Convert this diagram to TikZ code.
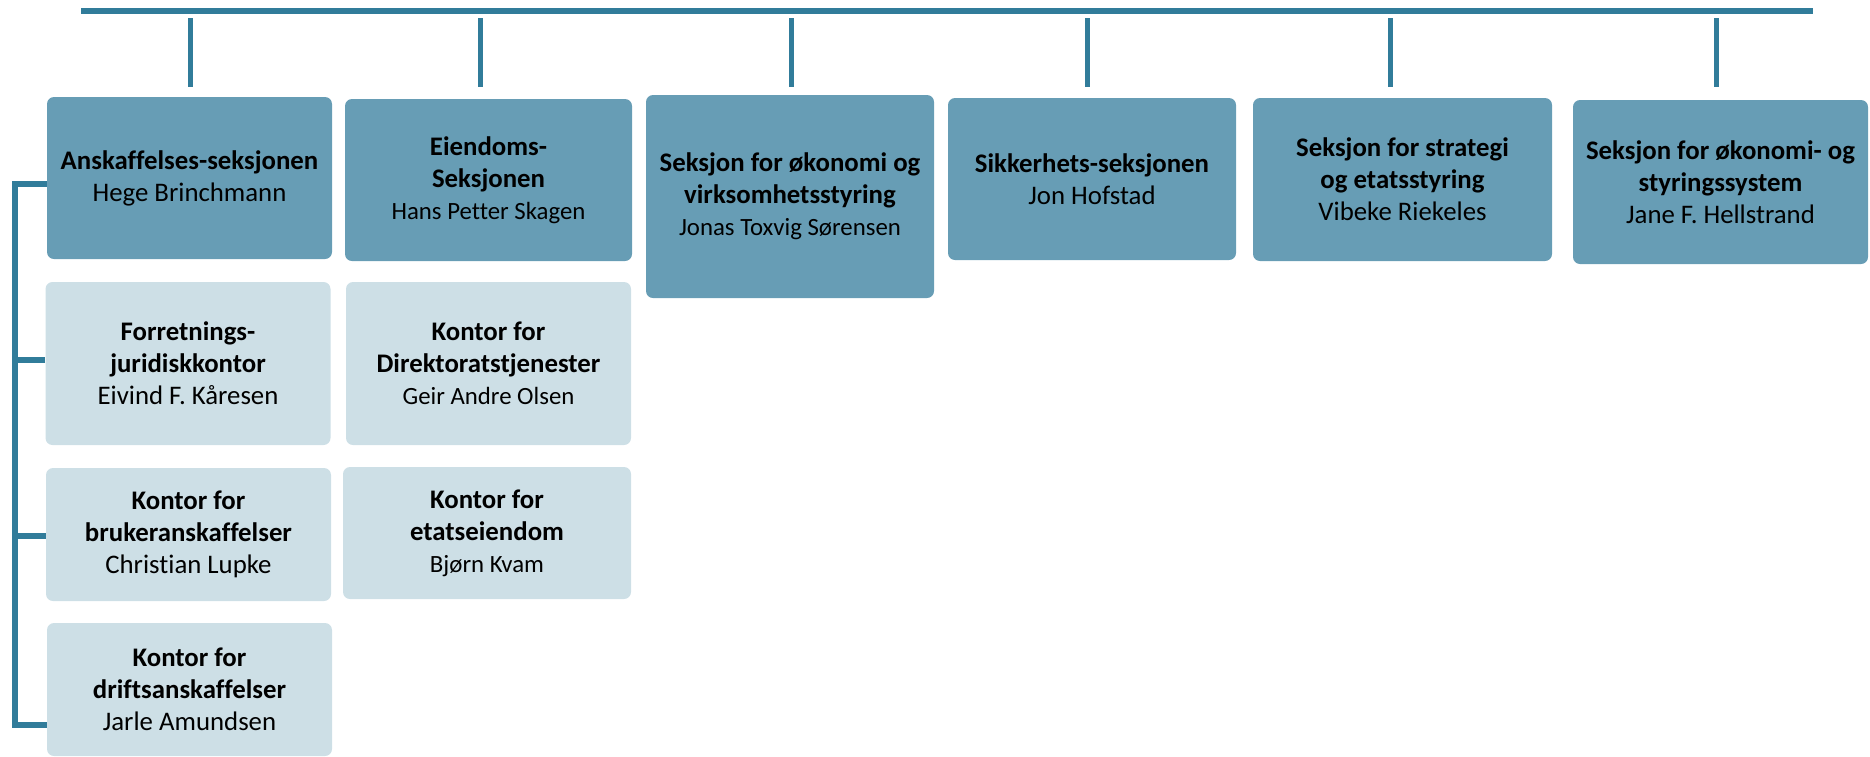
\documentclass[tikz,border=0pt]{standalone}
\usepackage{fontspec}
\setmainfont{Carlito}[Ligatures=NoCommon]
\usetikzlibrary{calc,positioning}

\definecolor{linecol}{RGB}{49,124,154}
\definecolor{seksjon}{RGB}{103,157,181}
\definecolor{kontor}{RGB}{205,223,230}

\begin{document}
\begin{tikzpicture}[x=0.5pt,y=-0.5pt]
		\tikzstyle{link}=[linecol,line width=2.5pt]
		\tikzstyle{unit}=[rounded corners=3.5pt,align=center,inner sep=0pt,
			font=\fontsize{13.4}{16}\selectfont]
		\tikzstyle{sek}=[unit,fill=seksjon]
		\tikzstyle{kon}=[unit,fill=kontor,minimum width=142.5pt]
		\def\small{\fontsize{12.4}{16}\selectfont}

		\useasboundingbox (0,0) rectangle (1870,756);

		%sections
		\node[sek,minimum width=142.5pt,minimum height=81pt] (a1) at (189.5,178)
			{\textbf{Anskaffelses-seksjonen}\\Hege Brinchmann};
		\node[sek,minimum width=143.5pt,minimum height=81pt] (a2) at (488.5,180)
			{\textbf{Eiendoms-}\\\textbf{Seksjonen}\\{\small Hans Petter Skagen}};
		\node[sek,minimum width=144pt,minimum height=101.5pt] (a3) at (790,196.5)
			{\textbf{Seksjon for økonomi og}\\\textbf{virksomhetsstyring}\\{\small Jonas Toxvig Sørensen}};
		\node[sek,minimum width=144pt,minimum height=81pt] (a4) at (1092,179)
			{\textbf{Sikkerhets-seksjonen}\\Jon Hofstad};
		\node[sek,minimum width=149.5pt,minimum height=81.5pt] (a5) at (1402.5,179.5)
			{\textbf{Seksjon for strategi}\\\textbf{og etatsstyring}\\Vibeke Riekeles};
		\node[sek,minimum width=147.5pt,minimum height=82pt] (a6) at (1720.5,182)
			{\textbf{Seksjon for økonomi- og}\\\textbf{styringssystem}\\Jane F. Hellstrand};

		%offices
		\node[kon,minimum height=81.5pt] (b1) at (188,363.5)
			{\textbf{Forretnings-}\\\textbf{juridiskkontor}\\Eivind F. Kåresen};
		\node[kon,minimum height=66.5pt] (b2) at (188.5,534.5)
			{\textbf{Kontor for}\\\textbf{brukeranskaffelser}\\Christian Lupke};
		\node[kon,minimum height=66.5pt] (b3) at (189.5,689.5)
			{\textbf{Kontor for}\\\textbf{driftsanskaffelser}\\Jarle Amundsen};
		\node[kon,minimum height=81.5pt] (c1) at (488.5,363.5)
			{\textbf{Kontor for}\\\textbf{Direktoratstjenester}\\{\small Geir Andre Olsen}};
		\node[kon,minimum width=144pt,minimum height=66pt] (c2) at (487,533)
			{\textbf{Kontor for}\\\textbf{etatseiendom}\\{\small Bjørn Kvam}};

		%top bar
		\coordinate (barL) at (81,11);
		\coordinate (barR) at (1813,11);
		\draw[linecol,line width=3pt] (barL) -- (barR);

		%drops
		\coordinate (droptop) at (0,18);
		\coordinate (dropbot) at (0,87);
		\foreach \n/\dx in {1/1,2/-8,3/1,4/-5,5/-12,6/-4}
			\draw[link] ([xshift=\dx*0.5pt]a\n.north |- droptop) -- ([xshift=\dx*0.5pt]a\n.north |- dropbot);

		%bracket
		\coordinate (brtop) at (14.5,184);
		\coordinate (brbot) at (14.5,725);
		\draw[linecol,line width=3pt] (a1.west |- brtop) -- (brtop) -- (brbot) -- (b3.west |- brbot);
		\draw[linecol,line width=3pt] (b1.west |- 0,360) -- (brtop |- 0,360);
		\draw[linecol,line width=3pt] (b2.west |- 0,536) -- (brtop |- 0,536);
	\end{tikzpicture}
\end{document}
